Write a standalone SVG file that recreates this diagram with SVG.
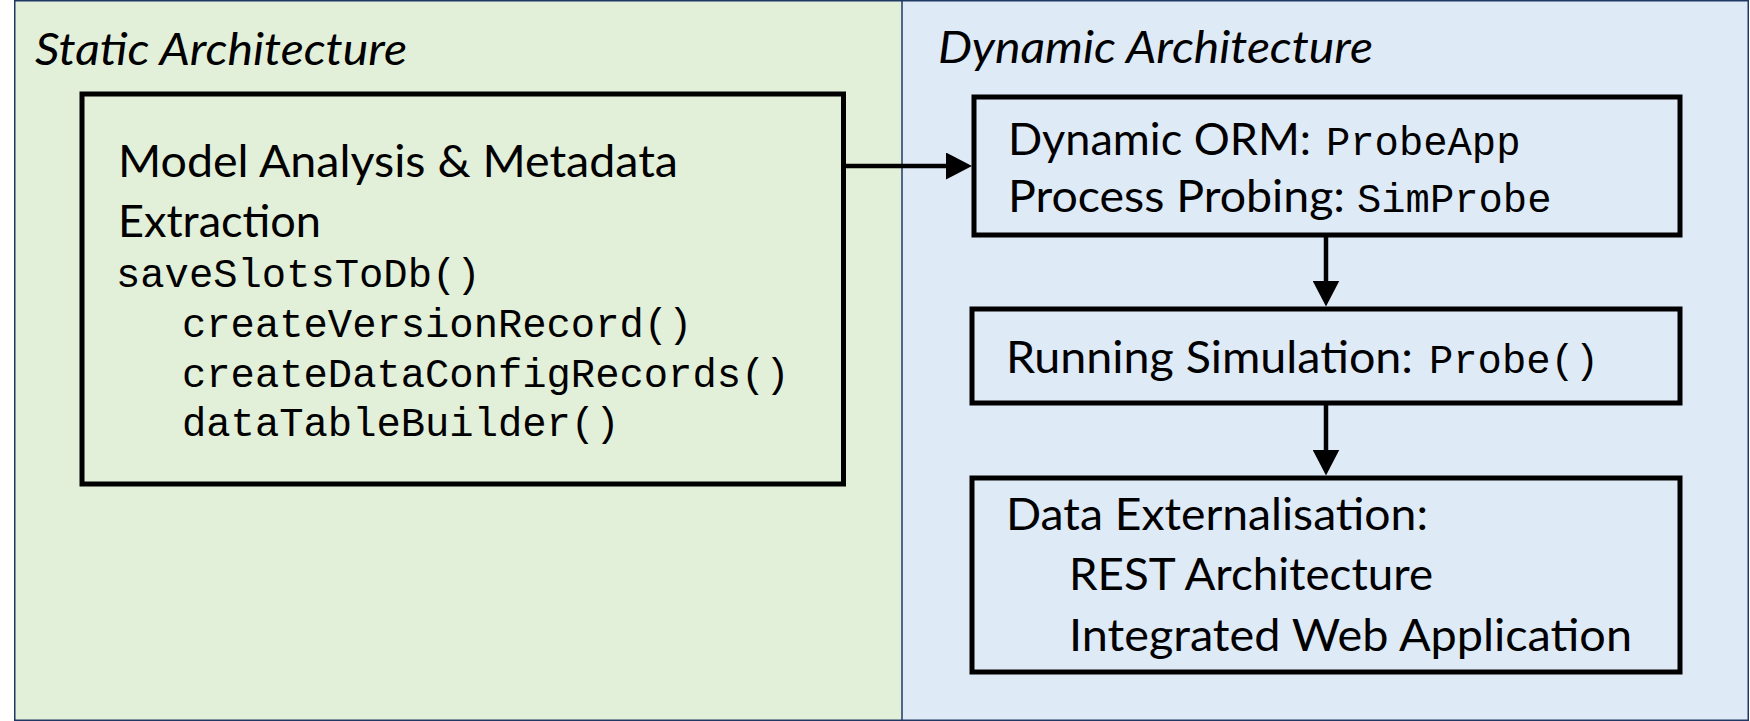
<svg xmlns="http://www.w3.org/2000/svg" width="1750" height="721" viewBox="0 0 1750 721">
  <style>
    .panel-border { fill: none; stroke: #1F3864; stroke-width: 1.5; }
    .box { fill: none; stroke: #000000; stroke-width: 5; }
    .title { font-family: Lato, "Open Sans", "Liberation Sans", sans-serif; font-style: italic; font-size: 44px; fill: #000000; }
    .txt { font-family: Lato, "Open Sans", "Liberation Sans", sans-serif; font-size: 44px; fill: #000000; }
    .mono { font-family: "Liberation Mono", "Courier New", monospace; font-size: 40.5px; fill: #000000; }
    .conn { stroke: #000000; stroke-width: 4.5; fill: none; }
  </style>
  <defs>
    <marker id="arrow" markerUnits="userSpaceOnUse" markerWidth="27" markerHeight="27" viewBox="0 0 27 27" refX="2" refY="13.5" orient="auto">
      <path d="M0,0 L26,13.5 L0,27 z" fill="#000000"/>
    </marker>
  </defs>

  <g id="static-panel">
    <rect x="14" y="0" width="888" height="720" fill="#E2EFD9"/>
    <text class="title" x="35" y="65" textLength="372" lengthAdjust="spacingAndGlyphs">Static Architecture</text>
  </g>
  <g id="dynamic-panel">
    <rect x="902" y="0" width="847" height="720" fill="#DEEAF6"/>
    <text class="title" x="938" y="63" textLength="435" lengthAdjust="spacingAndGlyphs">Dynamic Architecture</text>
  </g>
  <g id="panel-borders">
    <rect class="panel-border" x="14.75" y="0.75" width="1733.5" height="719.5"/>
    <line class="panel-border" x1="902" y1="0" x2="902" y2="720"/>
  </g>

  <g id="model-analysis">
    <rect class="box" x="82" y="94" width="761.5" height="390"/>
    <text class="txt" x="118" y="177" textLength="560" lengthAdjust="spacingAndGlyphs">Model Analysis &amp; Metadata</text>
    <text class="txt" x="118" y="237" textLength="203" lengthAdjust="spacingAndGlyphs">Extraction</text>
    <text class="mono" x="116" y="287">saveSlotsToDb()</text>
    <text class="mono" x="182" y="337">createVersionRecord()</text>
    <text class="mono" x="182" y="387">createDataConfigRecords()</text>
    <text class="mono" x="182" y="436">dataTableBuilder()</text>
  </g>

  <g id="dynamic-orm">
    <rect class="box" x="974" y="97" width="706" height="138"/>
    <text class="txt" x="1008" y="155" textLength="303" lengthAdjust="spacingAndGlyphs">Dynamic ORM:</text>
    <text class="mono" x="1326" y="155">ProbeApp</text>
    <text class="txt" x="1008" y="212" textLength="337" lengthAdjust="spacingAndGlyphs">Process Probing:</text>
    <text class="mono" x="1357" y="212">SimProbe</text>
  </g>

  <g id="running-simulation">
    <rect class="box" x="972" y="309" width="708" height="94"/>
    <text class="txt" x="1006" y="373" textLength="407" lengthAdjust="spacingAndGlyphs">Running Simulation:</text>
    <text class="mono" x="1429" y="373">Probe()</text>
  </g>

  <g id="data-externalisation">
    <rect class="box" x="972" y="478" width="708" height="194"/>
    <text class="txt" x="1006" y="530" textLength="422" lengthAdjust="spacingAndGlyphs">Data Externalisation:</text>
    <text class="txt" x="1069" y="590" textLength="364" lengthAdjust="spacingAndGlyphs">REST Architecture</text>
    <text class="txt" x="1069" y="651" textLength="563" lengthAdjust="spacingAndGlyphs">Integrated Web Application</text>
  </g>

  <g id="connectors">
    <line class="conn" x1="846" y1="166" x2="948" y2="166" marker-end="url(#arrow)"/>
    <line class="conn" x1="1326" y1="237" x2="1326" y2="282.5" marker-end="url(#arrow)"/>
    <line class="conn" x1="1326" y1="405" x2="1326" y2="451.5" marker-end="url(#arrow)"/>
  </g>
</svg>
